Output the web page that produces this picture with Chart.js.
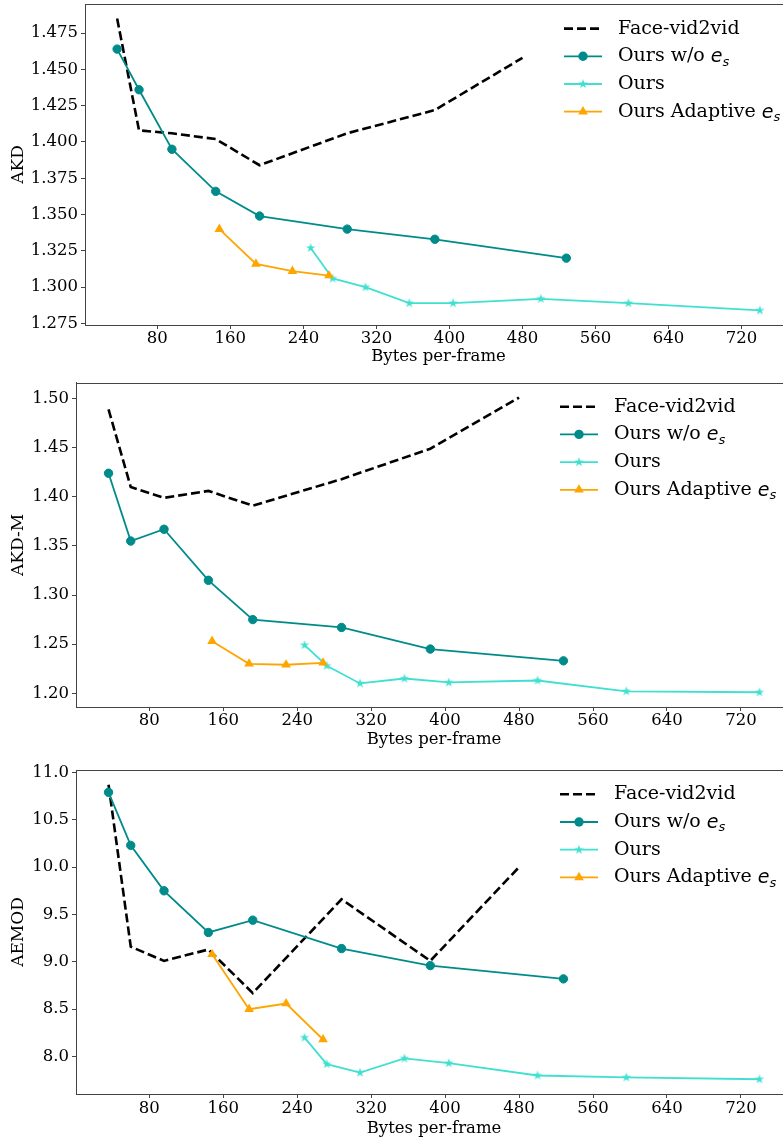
<!DOCTYPE html>
<html>
<head>
<meta charset="utf-8">
<script src="https://cdn.jsdelivr.net/npm/chart.js@4.4.1/dist/chart.umd.min.js"></script>
<style>
  html, body { margin: 0; padding: 0; background: #fff; width: 783px; height: 1143px; overflow: hidden; }
  .panel { position: absolute; left: 0; }
</style>
</head>
<body>
<canvas id="akd" class="panel" width="800" height="380" style="top:-10px"></canvas>
<canvas id="akdm" class="panel" width="800" height="382" style="top:370px"></canvas>
<canvas id="aemod" class="panel" width="800" height="387" style="top:756px"></canvas>
<script>
// bytes per frame for each method
const bytesFace = [36, 60, 96, 144, 192, 288, 384, 480];
const bytesNoEs = [36, 60, 96, 144, 192, 288, 384, 528];
const bytesOurs = [248, 272, 308, 356, 404, 500, 596, 740];
const bytesAdaptive = [148, 188, 228, 268];
const xTicks = [80, 160, 240, 320, 400, 480, 560, 640, 720];

// AKD
const akdFace = [1.485, 1.408, 1.406, 1.402, 1.384, 1.406, 1.422, 1.458];
const akdNoEs = [1.464, 1.436, 1.395, 1.366, 1.349, 1.340, 1.333, 1.320];
const akdOurs = [1.327, 1.306, 1.300, 1.289, 1.289, 1.292, 1.289, 1.284];
const akdAdaptive = [1.340, 1.316, 1.311, 1.308];
const akdTicks = [1.275, 1.300, 1.325, 1.350, 1.375, 1.400, 1.425, 1.450, 1.475];

// AKD-M
const akdmFace = [1.489, 1.410, 1.399, 1.406, 1.391, 1.418, 1.449, 1.501];
const akdmNoEs = [1.424, 1.355, 1.367, 1.315, 1.275, 1.267, 1.245, 1.233];
const akdmOurs = [1.249, 1.228, 1.210, 1.215, 1.211, 1.213, 1.202, 1.201];
const akdmAdaptive = [1.253, 1.230, 1.229, 1.231];
const akdmTicks = [1.20, 1.25, 1.30, 1.35, 1.40, 1.45, 1.50];

// AEMOD
const aemodFace = [10.87, 9.16, 9.01, 9.13, 8.67, 9.66, 9.01, 10.00];
const aemodNoEs = [10.79, 10.23, 9.75, 9.31, 9.44, 9.14, 8.96, 8.82];
const aemodOurs = [8.20, 7.92, 7.83, 7.98, 7.93, 7.80, 7.78, 7.76];
const aemodAdaptive = [9.08, 8.50, 8.56, 8.18];
const aemodTicks = [8.0, 8.5, 9.0, 9.5, 10.0, 10.5, 11.0];

const SERIF = "'DejaVu Serif', serif";
const TEAL = "#008b8b";
const TURQ = "#40e0d0";
const ORANGE = "#ffa500";

function makeStar(color, r) {
  const c = document.createElement("canvas");
  const s = Math.ceil(r * 2) + 2;
  c.width = c.height = s;
  const g = c.getContext("2d");
  g.fillStyle = color;
  g.beginPath();
  for (let i = 0; i < 10; i++) {
    const rr = i % 2 ? r * 0.382 : r;
    const a = -Math.PI / 2 + i * Math.PI / 5;
    const px = s / 2 + Math.cos(a) * rr;
    const py = s / 2 + Math.sin(a) * rr;
    if (i === 0) g.moveTo(px, py); else g.lineTo(px, py);
  }
  g.closePath();
  g.fill();
  return c;
}
const star = makeStar(TURQ, 5);

function pts(xs, ys) {
  return xs.map((x, i) => ({ x: x, y: ys[i] }));
}

function padRange(vals) {
  const lo = Math.min(...vals), hi = Math.max(...vals);
  const p = (hi - lo) * 0.05;
  return [lo - p, hi + p];
}

// draws the box and a matplotlib-like legend
const mplLegend = {
  id: "mplLegend",
  afterDraw(chart, args, opts) {
    const ctx = chart.ctx;
    const a = chart.chartArea;
    ctx.save();
    ctx.strokeStyle = "#444";
    ctx.lineWidth = 1;
    ctx.strokeRect(Math.round(a.left) + 0.5, Math.round(a.top) + 0.5,
      Math.round(a.right - a.left), Math.round(a.bottom - a.top));

    chart.data.datasets.forEach((ds, i) => {
      const y = opts.y + i * opts.gap;
      const x = opts.x;
      ctx.strokeStyle = ds.borderColor;
      ctx.lineWidth = ds.borderWidth;
      ctx.setLineDash(ds.borderDash || []);
      ctx.beginPath();
      ctx.moveTo(x, y);
      ctx.lineTo(x + 38, y);
      ctx.stroke();
      ctx.setLineDash([]);
      const cx = x + 19;
      ctx.fillStyle = ds.borderColor;
      if (ds.pointStyle === "circle" && ds.pointRadius > 0) {
        ctx.beginPath();
        ctx.arc(cx, y, ds.pointRadius + 0.5, 0, Math.PI * 2);
        ctx.fill();
      } else if (ds.pointStyle === "triangle") {
        const r = ds.pointRadius;
        ctx.beginPath();
        ctx.moveTo(cx, y - r);
        ctx.lineTo(cx + r * 0.866, y + r * 0.5);
        ctx.lineTo(cx - r * 0.866, y + r * 0.5);
        ctx.closePath();
        ctx.fill();
      } else if (ds.pointStyle instanceof HTMLCanvasElement) {
        ctx.drawImage(ds.pointStyle, cx - ds.pointStyle.width / 2, y - ds.pointStyle.height / 2);
      }
      // label text, "$e_s$" drawn as italic e with subscript s
      ctx.fillStyle = "#000";
      ctx.textBaseline = "middle";
      ctx.textAlign = "left";
      ctx.font = "19px " + SERIF;
      let label = ds.label;
      let tx = x + 54;
      const hasMath = label.endsWith("$e_s$");
      if (hasMath) label = label.slice(0, -5);
      ctx.fillText(label, tx, y);
      if (hasMath) {
        tx += ctx.measureText(label).width;
        ctx.font = "italic 19px 'DejaVu Sans', sans-serif";
        ctx.fillText("e", tx, y + 1);
        tx += ctx.measureText("e").width;
        ctx.font = "italic 13px 'DejaVu Sans', sans-serif";
        ctx.fillText("s", tx, y + 6);
      }
    });
    ctx.restore();
  }
};

function makeChart(id, cfg) {
  const allX = bytesFace.concat(bytesNoEs, bytesOurs, bytesAdaptive);
  const xr = padRange(allX);
  const yr = padRange(cfg.face.concat(cfg.noEs, cfg.ours, cfg.adaptive));
  const ctx = document.getElementById(id).getContext("2d");
  return new Chart(ctx, {
    type: "line",
    data: {
      datasets: [
        {
          label: "Face-vid2vid",
          data: pts(bytesFace, cfg.face),
          borderColor: "#000",
          borderWidth: 2.6,
          borderDash: [9, 4],
          pointRadius: 0,
          pointStyle: "none",
          order: 4
        },
        {
          label: "Ours w/o $e_s$",
          data: pts(bytesNoEs, cfg.noEs),
          borderColor: TEAL,
          backgroundColor: TEAL,
          borderWidth: 1.8,
          pointStyle: "circle",
          pointRadius: 4.2,
          pointBorderWidth: 1,
          order: 3
        },
        {
          label: "Ours",
          data: pts(bytesOurs, cfg.ours),
          borderColor: TURQ,
          backgroundColor: TURQ,
          borderWidth: 1.8,
          pointStyle: star,
          pointRadius: 5,
          order: 2
        },
        {
          label: "Ours Adaptive $e_s$",
          data: pts(bytesAdaptive, cfg.adaptive),
          borderColor: ORANGE,
          backgroundColor: ORANGE,
          borderWidth: 1.8,
          pointStyle: "triangle",
          pointRadius: 5.6,
          pointBorderWidth: 0,
          order: 1
        }
      ]
    },
    options: {
      responsive: false,
      animation: false,
      layout: { padding: { top: cfg.padTop, right: 8, left: 0, bottom: 0 } },
      elements: { line: { tension: 0 } },
      plugins: {
        legend: { display: false },
        tooltip: { enabled: false },
        mplLegend: cfg.legend
      },
      scales: {
        x: {
          type: "linear",
          min: xr[0],
          max: xr[1],
          afterBuildTicks: s => { s.ticks = xTicks.map(v => ({ value: v })); },
          afterFit: s => { s.height = cfg.xHeight; },
          grid: { drawOnChartArea: false, drawTicks: true, tickLength: 4, color: "#444" },
          border: { display: true, color: "#444", width: 1 },
          ticks: { color: "#000", font: { family: SERIF, size: 16.5 }, padding: cfg.xTickPad, maxRotation: 0 },
          title: {
            display: true,
            text: "Bytes per-frame",
            color: "#000",
            font: { family: SERIF, size: 16.5 },
            padding: { top: 0, bottom: cfg.xTitlePad }
          }
        },
        y: {
          type: "linear",
          min: yr[0],
          max: yr[1],
          afterBuildTicks: s => { s.ticks = cfg.ticks.map(v => ({ value: v })); },
          afterFit: s => { s.width = cfg.yWidth; },
          grid: { drawOnChartArea: false, drawTicks: true, tickLength: 4, color: "#444" },
          border: { display: true, color: "#444", width: 1 },
          ticks: {
            color: "#000",
            font: { family: SERIF, size: 16.5 },
            padding: 3,
            callback: v => v.toFixed(cfg.digits)
          },
          title: {
            display: true,
            text: cfg.yTitle,
            color: "#000",
            font: { family: SERIF, size: 17 },
            padding: { top: 8, bottom: 0 }
          }
        }
      }
    },
    plugins: [mplLegend]
  });
}

makeChart("akd", {
  face: akdFace, noEs: akdNoEs, ours: akdOurs, adaptive: akdAdaptive,
  ticks: akdTicks, digits: 3, yTitle: "AKD",
  padTop: 14, xHeight: 45, xTickPad: 0, xTitlePad: 3, yWidth: 85,
  legend: { x: 564, y: 38.6, gap: 27.7 }
});

makeChart("akdm", {
  face: akdmFace, noEs: akdmNoEs, ours: akdmOurs, adaptive: akdmAdaptive,
  ticks: akdmTicks, digits: 2, yTitle: "AKD-M",
  padTop: 12, xHeight: 45, xTickPad: 0, xTitlePad: 2, yWidth: 76,
  legend: { x: 560, y: 36.7, gap: 27.7 }
});

makeChart("aemod", {
  face: aemodFace, noEs: aemodNoEs, ours: aemodOurs, adaptive: aemodAdaptive,
  ticks: aemodTicks, digits: 1, yTitle: "AEMOD",
  padTop: 14, xHeight: 49, xTickPad: 1, xTitlePad: 4, yWidth: 76,
  legend: { x: 560, y: 38.3, gap: 27.7 }
});
</script>
</body>
</html>
